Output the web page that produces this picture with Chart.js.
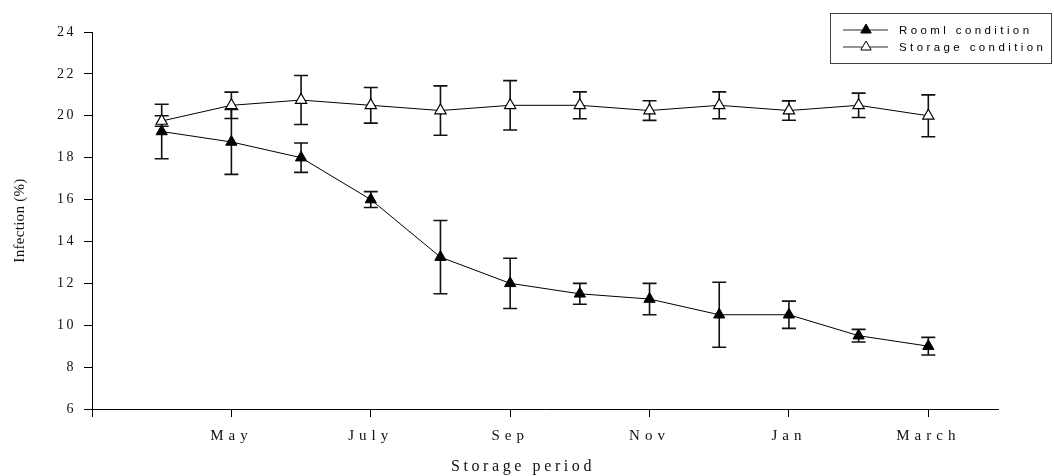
<!DOCTYPE html>
<html>
<head>
<meta charset="utf-8">
<script src="https://cdn.jsdelivr.net/npm/chart.js@4"></script>
<style>
  body { margin: 0; background: #fff; }
  canvas { display: block; }
</style>
</head>
<body>
<canvas id="infectionChart" width="1054" height="476"></canvas>
<script>
// storage period index 1..12, ticks every second month
const periods = [1, 2, 3, 4, 5, 6, 7, 8, 9, 10, 11, 12];
const tickLabels = ['', 'May', 'July', 'Sep', 'Nov', 'Jan', 'March'];

const roomValues = [19.25, 18.75, 18.0, 16.0, 13.25, 12.0, 11.5, 11.25, 10.5, 10.5, 9.5, 9.0];
const roomErrors = [1.3, 1.55, 0.7, 0.38, 1.75, 1.2, 0.5, 0.75, 1.55, 0.65, 0.3, 0.42];

const storageValues = [19.75, 20.5, 20.75, 20.5, 20.25, 20.5, 20.5, 20.25, 20.5, 20.25, 20.5, 20.0];
const storageErrors = [0.25, 0.63, 1.17, 0.85, 1.18, 1.18, 0.64, 0.47, 0.64, 0.46, 0.58, 1.0];

const legendLabels = ['Rooml condition', 'Storage condition'];

function toPoints(values) {
    return values.map((v, i) => ({ x: periods[i], y: v }));
}

function withSpacing(fn, spacing) {
    return function (...args) {
        const ctx = this.ctx;
        ctx.save();
        ctx.letterSpacing = spacing;
        fn.apply(this, args);
        ctx.restore();
    };
}

const spacingPlugin = {
    id: 'spacing',
    beforeDraw(chart) {
        const { x, y } = chart.scales;
        if (x._spaced) return;
        x.drawLabels = withSpacing(x.drawLabels, '5px');
        y.drawLabels = withSpacing(y.drawLabels, '2.5px');
        y.drawTitle = withSpacing(y.drawTitle, '0.3px');
        x._spaced = true;
    }
};

const errorBarPlugin = {
    id: 'errorBars',
    beforeDatasetsDraw(chart) {
        const ctx = chart.ctx;
        const { x, y } = chart.scales;
        const sets = [[roomValues, roomErrors], [storageValues, storageErrors]];
        ctx.save();
        ctx.strokeStyle = '#111';
        ctx.lineWidth = 1.6;
        sets.forEach(([values, errors]) => {
            values.forEach((v, i) => {
                const px = x.getPixelForValue(periods[i]);
                const top = y.getPixelForValue(v + errors[i]);
                const bottom = y.getPixelForValue(v - errors[i]);
                ctx.beginPath();
                ctx.moveTo(px, top);
                ctx.lineTo(px, bottom);
                ctx.moveTo(px - 7, top);
                ctx.lineTo(px + 7, top);
                ctx.moveTo(px - 7, bottom);
                ctx.lineTo(px + 7, bottom);
                ctx.stroke();
            });
        });
        ctx.restore();
    }
};

const boxLegendPlugin = {
    id: 'boxLegend',
    afterDraw(chart) {
        const ctx = chart.ctx;
        ctx.save();
        ctx.strokeStyle = '#404040';
        ctx.lineWidth = 1;
        ctx.strokeRect(830.5, 13.5, 221, 50);

        const fills = ['#000', '#fff'];
        legendLabels.forEach((label, i) => {
            const rowY = 30 + i * 17;
            ctx.strokeStyle = '#707070';
            ctx.lineWidth = 1.3;
            ctx.beginPath();
            ctx.moveTo(843, rowY);
            ctx.lineTo(888, rowY);
            ctx.stroke();

            ctx.fillStyle = fills[i];
            ctx.strokeStyle = '#000';
            ctx.lineWidth = 1;
            Chart.helpers.drawPoint(ctx, { pointStyle: 'triangle', radius: 6, rotation: 0, borderWidth: 1 }, 866, rowY);

            ctx.fillStyle = '#000';
            ctx.font = '11.5px "Liberation Sans"';
            ctx.letterSpacing = '3.4px';
            ctx.textAlign = 'left';
            ctx.textBaseline = 'middle';
            ctx.fillText(label, 899, rowY + 1);
        });

        // x axis title
        ctx.fillStyle = '#111';
        ctx.font = '16px "Liberation Serif"';
        ctx.letterSpacing = '3.6px';
        ctx.textAlign = 'center';
        ctx.textBaseline = 'middle';
        ctx.fillText('Storage period', 523, 467);
        ctx.restore();
    }
};

Chart.defaults.font.family = '"Liberation Serif", serif';
Chart.defaults.color = '#111';

new Chart(document.getElementById('infectionChart'), {
    type: 'line',
    data: {
        datasets: [{
            label: legendLabels[0],
            data: toPoints(roomValues),
            borderColor: '#000',
            borderWidth: 1,
            pointStyle: 'triangle',
            pointRadius: 6.5,
            pointBackgroundColor: '#000',
            pointBorderColor: '#000',
            pointBorderWidth: 1,
            tension: 0
        }, {
            label: legendLabels[1],
            data: toPoints(storageValues),
            borderColor: '#000',
            borderWidth: 1,
            pointStyle: 'triangle',
            pointRadius: 6.5,
            pointBackgroundColor: '#fff',
            pointBorderColor: '#000',
            pointBorderWidth: 1.2,
            tension: 0
        }]
    },
    options: {
        responsive: false,
        animation: false,
        devicePixelRatio: 1,
        layout: { padding: { top: 32, right: 56, left: 0, bottom: 0 } },
        plugins: {
            legend: { display: false },
            tooltip: { enabled: false }
        },
        scales: {
            x: {
                type: 'linear',
                min: 0,
                max: 13,
                afterFit: (scale) => { scale.height = 67; },
                afterBuildTicks: (scale) => {
                    scale.ticks = tickLabels.map((_, i) => ({ value: i * 2 }));
                },
                ticks: {
                    autoSkip: false,
                    maxRotation: 0,
                    padding: 10,
                    font: { size: 15 },
                    color: '#111',
                    callback: (v) => tickLabels[v / 2]
                },
                grid: { drawOnChartArea: false, tickLength: 8, tickColor: '#000', tickWidth: 1 },
                border: { color: '#000', width: 1 }
            },
            y: {
                min: 6,
                max: 24,
                afterFit: (scale) => { scale.width = 92; },
                ticks: {
                    stepSize: 2,
                    padding: 8,
                    font: { size: 14 },
                    color: '#111'
                },
                grid: { drawOnChartArea: false, tickLength: 8, tickColor: '#000', tickWidth: 1 },
                border: { color: '#000', width: 1 },
                title: {
                    display: true,
                    text: 'Infection (%)',
                    font: { size: 15 },
                    color: '#111',
                    padding: { top: 11, bottom: 0 }
                }
            }
        }
    },
    plugins: [spacingPlugin, errorBarPlugin, boxLegendPlugin]
});
</script>
</body>
</html>
